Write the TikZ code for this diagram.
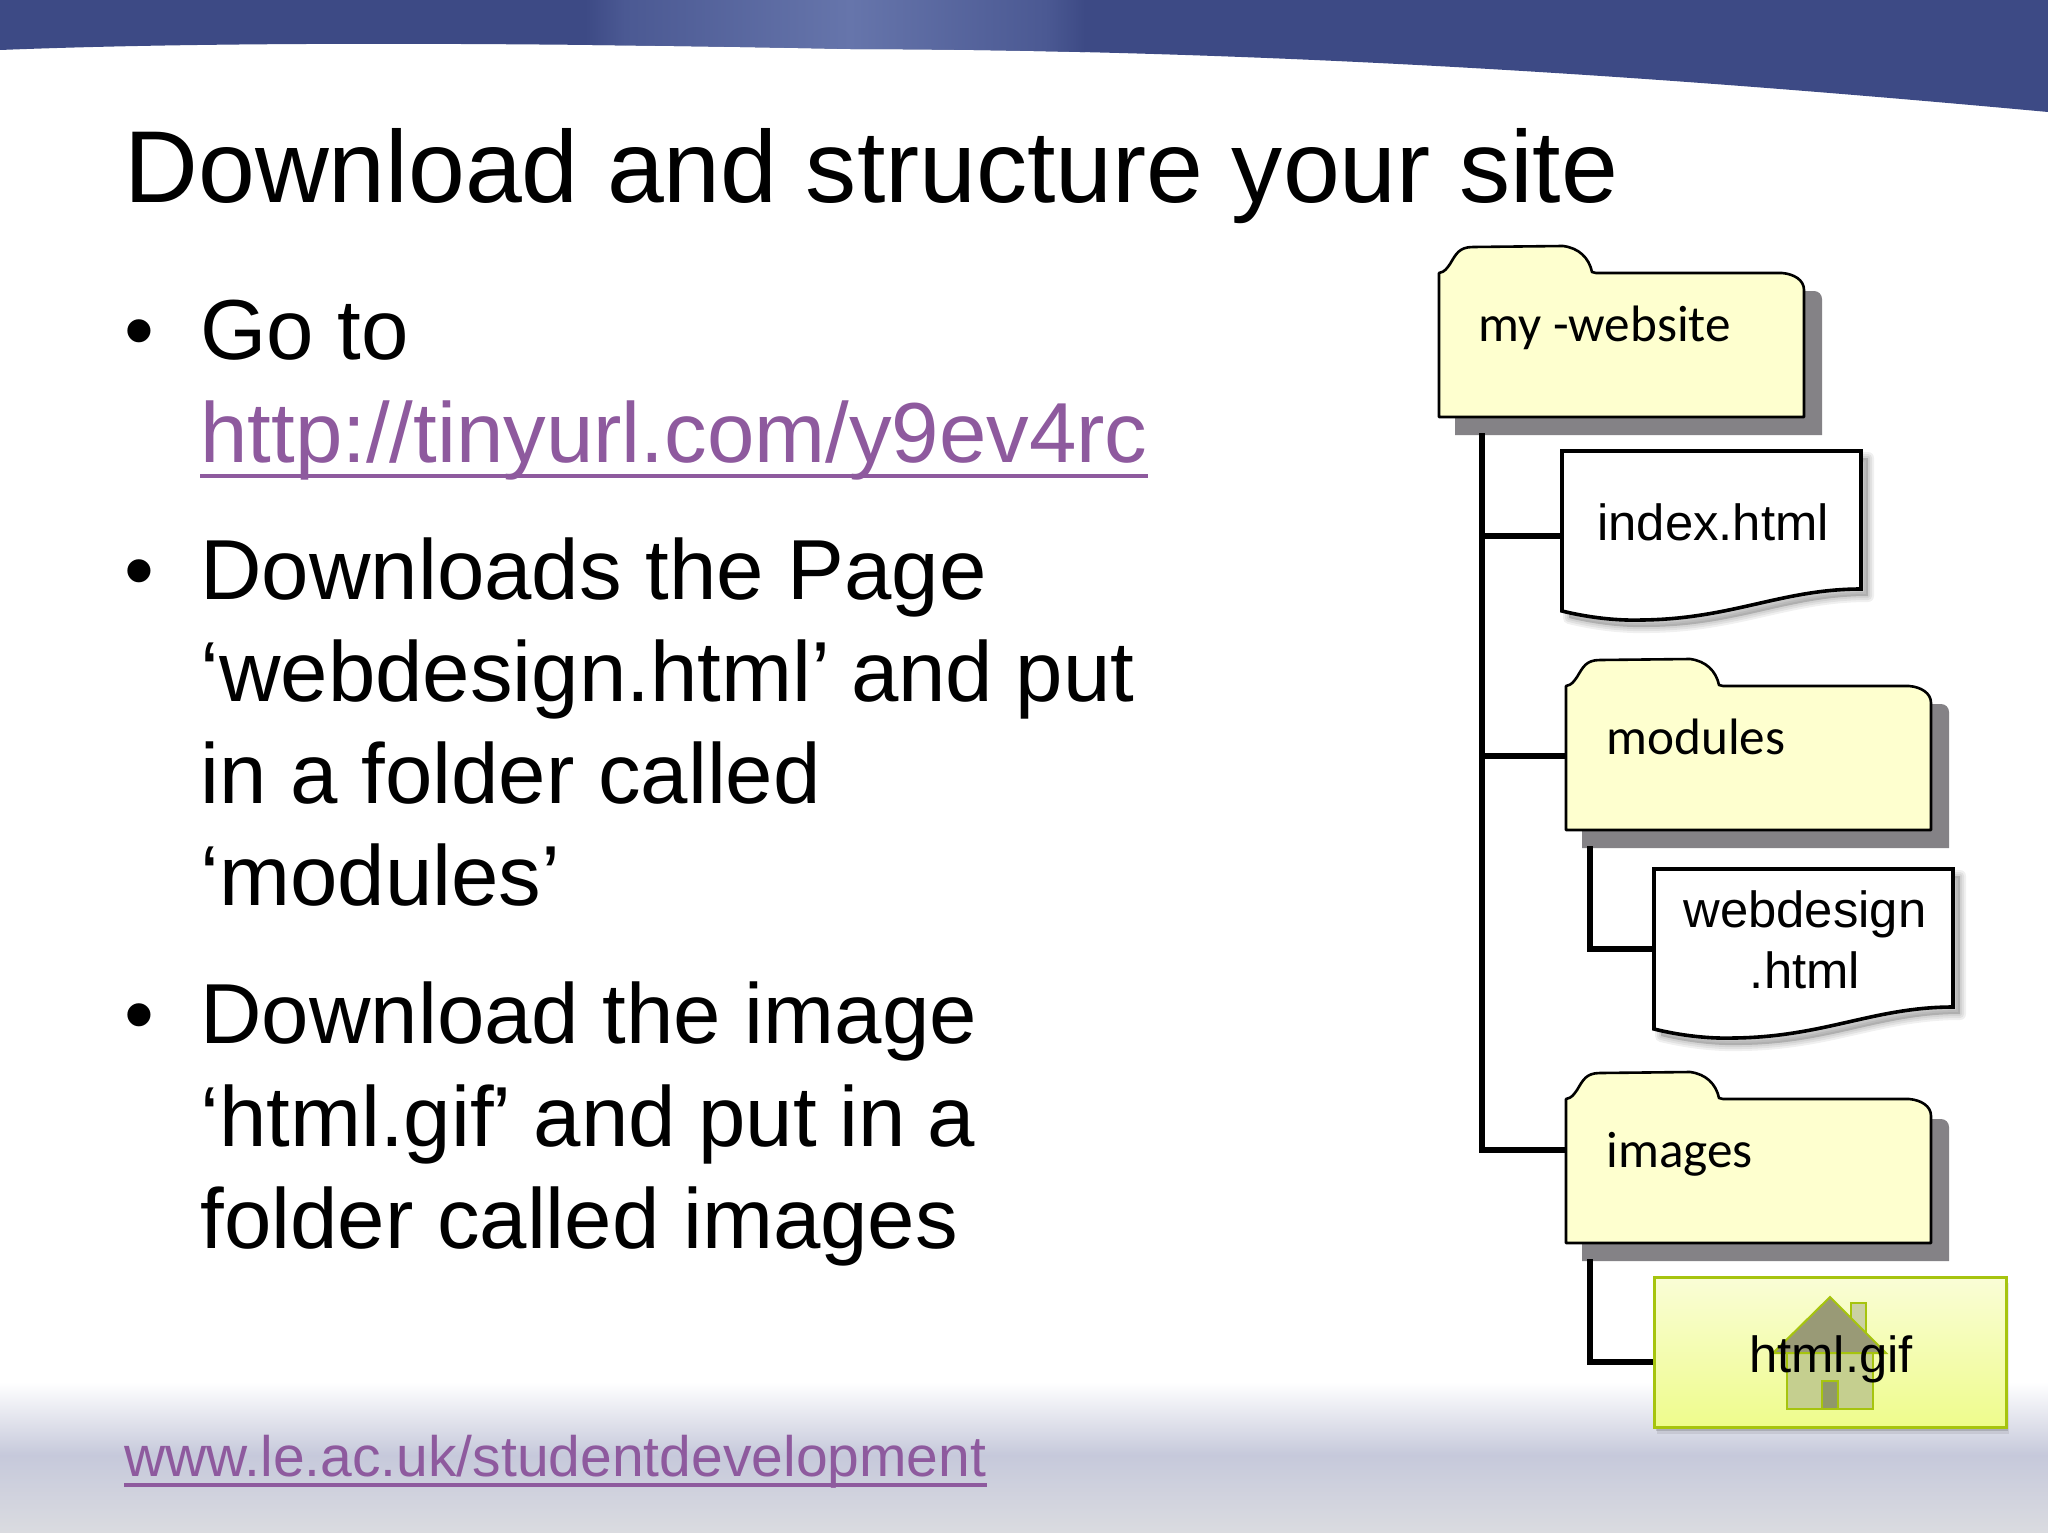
\documentclass[tikz,border=0pt]{standalone}
\usepackage{fontspec}
\setmainfont{Liberation Sans}
\newfontfamily\carl{Carlito}
\usetikzlibrary{calc}
\definecolor{hdr}{HTML}{3D4A85}
\definecolor{hdrhi}{HTML}{6675AB}
\definecolor{hdrlo}{HTML}{4B5993}
\definecolor{linkc}{HTML}{8E5A9E}
\definecolor{foldc}{HTML}{FEFFCF}
\definecolor{shc}{HTML}{848286}
\definecolor{limec}{HTML}{A6C40E}
\definecolor{ftmid}{HTML}{C6C9DB}
\definecolor{ftbot}{HTML}{DADBE0}
\definecolor{giftop}{HTML}{FAFDD6}
\definecolor{gifbot}{HTML}{EEFC8C}
\definecolor{roofc}{HTML}{999A76}
\definecolor{bodyc}{HTML}{C5CF8F}
\definecolor{doorc}{HTML}{90986A}
\definecolor{chimc}{HTML}{CBD1A4}
\tikzset{
  x=0.5pt,y=-0.5pt,
  txt/.style={anchor=base west,inner sep=0pt,text=black},
  titletxt/.style={txt,font=\fontsize{51.1}{51.1}\selectfont},
  bodytxt/.style={txt,font=\fontsize{42.6}{42.6}\selectfont},
  linktxt/.style={txt,text=linkc},
  ul/.style={draw=linkc},
  foldertxt/.style={txt,font=\carl\fontsize{25.6}{25.6}\selectfont},
  doctxt/.style={anchor=base,inner sep=0pt,text=black,font=\fontsize{25.4}{25.4}\selectfont},
  conn/.style={draw=black,line width=3pt,line join=miter},
  foldline/.style={draw=black,line width=1.3pt,fill=foldc,line join=round},
  docline/.style={draw=black,line width=1.8pt,fill=white,line join=miter},
}
\newcommand{\folderpath}{(0,27) -- (0,27) .. controls (6,26) and (8,22) .. (11,18) .. controls (17,8) and (20,1) .. (34,1)
  -- (124,0) .. controls (140,2) and (150,12) .. (153,26) -- (157,27) -- (343,27) .. controls (355,28) and (365,34) .. (365,44) -- (365,171) -- (0,171) -- cycle}
\newcommand{\docpath}{(0,0) -- (299,0) -- (299,138) .. controls (220,138) and (170,168) .. (80,169) .. controls (50,170) and (20,165) .. (0,160) -- cycle}
\newcommand{\softshadow}{%
  \foreach \w in {6,4,2}{\path[draw=black,draw opacity=.06,fill=black,fill opacity=.06,line width=\w pt,line join=round,shift={(7,7)}] \docpath;}}
\newcommand{\tight}{\spaceskip=11.2pt\relax}
\begin{document}
\begin{tikzpicture}
\useasboundingbox (0,0) rectangle (2048,1536);
\fill[white] (0,0) rectangle (2048,1536);
% header band
\begin{scope}
\clip (0,0) -- (2048,0) -- (2048,112) .. controls (1700,80) and (1300,50) .. (850,49) .. controls (600,44) and (250,40) .. (0,50) -- cycle;
\fill[hdr] (0,0) rectangle (2048,115);
\shade[left color=hdr,right color=hdrlo] (585,0) rectangle (625,115);
\shade[left color=hdrlo,right color=hdrhi] (625,0) rectangle (850,115);
\shade[left color=hdrhi,right color=hdrlo] (850,0) rectangle (1045,115);
\shade[left color=hdrlo,right color=hdr] (1045,0) rectangle (1085,115);
\end{scope}
% footer band
\shade[top color=white,bottom color=ftmid] (0,1382) rectangle (2048,1455);
\shade[top color=ftmid,bottom color=ftbot] (0,1455) rectangle (2048,1532);
% texts
\node[titletxt] (title) at (124,202) {Download and structure your site};
\node[bodytxt] (b1) at (124,359) {•};
\node[bodytxt] (t1) at (200,359) {Go to};
\node[bodytxt,text=linkc] (link) at (200,462) {http://tinyurl.com/y9ev4rc};
\draw[ul,line width=2.4pt] ($(link.base west)+(0,14)$) -- ($(link.base east)+(0,14)$);
\node[bodytxt] (b2) at (124,599) {•};
\node[bodytxt] (t2) at (200,599) {Downloads the Page};
\node[bodytxt] (t3) at (200,701) {\tight‘webdesign.html’\kern-.65pt{} and put};
\node[bodytxt] (t4) at (200,803) {in a folder called};
\node[bodytxt] (t5) at (200,905) {‘modules’};
\node[bodytxt] (b3) at (124,1043) {•};
\node[bodytxt] (t6) at (200,1043) {Download the image};
\node[bodytxt] (t7) at (200,1146) {\tight‘html.gif\kern-.65pt’ and put in a};
\node[bodytxt] (t8) at (200,1248) {folder called images};
\node[linktxt,font=\fontsize{28.5}{28.5}\selectfont] (foot) at (124,1476) {www.le.ac.uk/studentdevelopment};
\draw[ul,line width=1.8pt] ($(foot.base west)+(0,9)$) -- ($(foot.base east)+(0,9)$);
% named anchors for the tree
\coordinate (trunk) at (1482,433);
\coordinate (idxw) at (1562,536);
\coordinate (modw) at (1566,756);
\coordinate (imgw) at (1566,1150);
\coordinate (subm) at (1590,846);
\coordinate (subi) at (1590,1259);
\coordinate (webw) at (1654,949);
\coordinate (gifw) at (1654,1362);
% folder shadows
\fill[shc] (1455,435) -- (1455,291) [rounded corners=4pt] -- (1822,291) [sharp corners] -- (1822,435) -- cycle;
\fill[shc] (1582,848) -- (1582,704) [rounded corners=4pt] -- (1949,704) [sharp corners] -- (1949,848) -- cycle;
\fill[shc] (1582,1261) -- (1582,1119) [rounded corners=4pt] -- (1949,1119) [sharp corners] -- (1949,1261) -- cycle;
% connectors
\draw[conn] (trunk) |- (imgw);
\draw[conn] (trunk |- idxw) -- (idxw);
\draw[conn] (trunk |- modw) -- (modw);
\draw[conn] (subm) |- (webw);
\draw[conn] (subi) |- (gifw);
% folders
\path[foldline,shift={(1439,246)}] \folderpath;
\node[foldertxt] (f1) at (1478,341) {my -website};
\path[foldline,shift={(1566,659)}] \folderpath;
\node[foldertxt] (f2) at (1606,754) {modules};
\path[foldline,shift={(1566,1072)}] \folderpath;
\node[foldertxt] (f3) at (1606,1167) {images};
% documents
\begin{scope}[shift={(1562,451)}]\softshadow\path[docline] \docpath;\end{scope}
\node[doctxt] (idx) at (1713,540) {index.html};
\begin{scope}[shift={(1654,869)}]\softshadow\path[docline] \docpath;\end{scope}
\node[doctxt] (web1) at (1805,927) {webdesign};
\node[doctxt] (web2) at (1805,988) {.html};
% gif box
\fill[black,opacity=.08] (1657,1283) rectangle (2009,1434);
\fill[black,opacity=.14] (1656,1281) rectangle (2008,1431);
\shade[top color=giftop,bottom color=gifbot] (1654,1277) rectangle (2006,1427);
\draw[limec,line width=1.5pt] (1654,1277) rectangle (2006,1427);
% house
\path[fill=chimc,draw=limec,line width=1pt] (1851,1303) rectangle (1866,1345);
\path[fill=bodyc,draw=limec,line width=1pt] (1787,1353) rectangle (1873,1409);
\path[fill=roofc,draw=limec,line width=1pt] (1773,1353) -- (1830,1297) -- (1886,1353) -- cycle;
\path[fill=doorc,draw=limec,line width=1pt] (1822,1381) rectangle (1838,1409);
\node[doctxt] (gif) at (1831,1372) {html.gif};
\end{tikzpicture}
\end{document}
